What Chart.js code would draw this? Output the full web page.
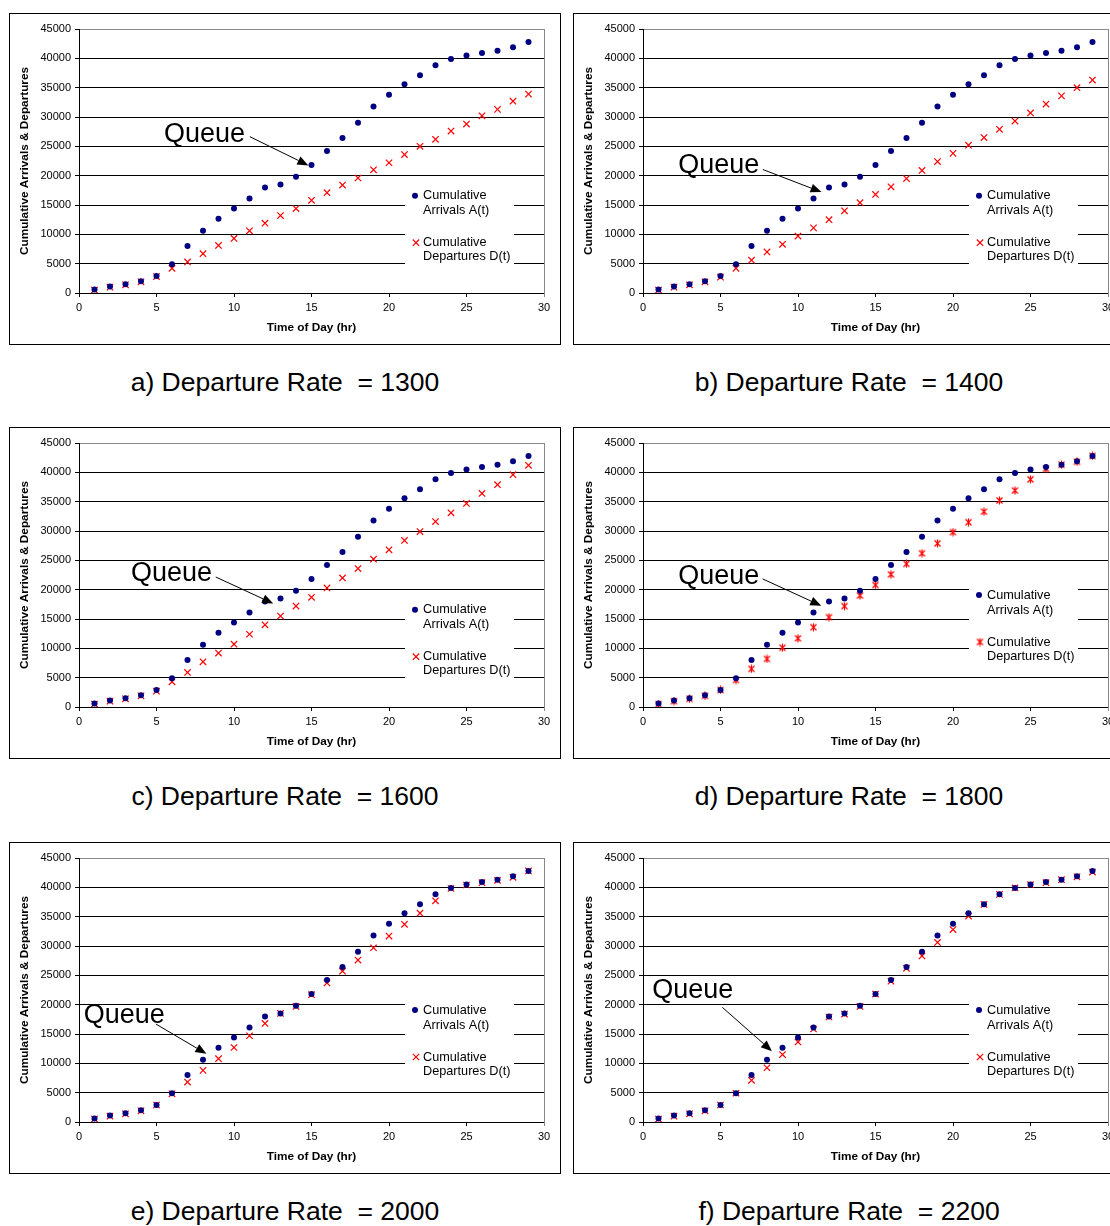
<!DOCTYPE html>
<html>
<head>
<meta charset="utf-8">
<script src="https://cdn.jsdelivr.net/npm/chart.js@4.4.1/dist/chart.umd.min.js"></script>
<style>
  body { margin: 0; width: 1110px; height: 1226px; overflow: hidden; background: #fff; position: relative; font-family: "Liberation Sans", Arial, sans-serif; }
  .panel { position: absolute; width: 550px; height: 330px; border: 1px solid #000; background: #fff; }
  .panel canvas { display: block; }
  .caption { position: absolute; width: 552px; text-align: center; font-size: 26.5px; line-height: 30px; white-space: pre; color: #000; }
</style>
</head>
<body>
<script>
// chart data
const hours = [1, 2, 3, 4, 5, 6, 7, 8, 9, 10, 11, 12, 13, 14, 15, 16, 17, 18, 19, 20, 21, 22, 23, 24, 25, 26, 27, 28, 29];

// cumulative arrivals A(t), same in every panel
const arrivals = [600, 1100, 1500, 2000, 2900, 4900, 8000, 10600, 12650, 14400, 16100, 18000, 18500, 19800, 21800, 24200, 26400, 29000, 31800, 33800, 35600, 37100, 38800, 39900, 40500, 40900, 41300, 41900, 42800];

// cumulative departures D(t), one list per departure rate
const dep1300 = [500, 1000, 1400, 1900, 2800, 4200, 5300, 6700, 8100, 9300, 10600, 11900, 13200, 14400, 15800, 17100, 18400, 19600, 21000, 22200, 23600, 25000, 26200, 27600, 28800, 30200, 31300, 32700, 33900];
const dep1400 = [500, 1000, 1400, 1900, 2700, 4200, 5600, 7000, 8300, 9700, 11100, 12500, 14000, 15400, 16800, 18100, 19500, 20900, 22400, 23800, 25200, 26500, 27900, 29300, 30700, 32200, 33600, 35000, 36300];
const dep1600 = [500, 1000, 1400, 1900, 2700, 4300, 5900, 7700, 9200, 10700, 12400, 14000, 15500, 17200, 18700, 20300, 22000, 23600, 25200, 26800, 28400, 29900, 31600, 33100, 34700, 36400, 37900, 39600, 41200];
const dep1800 = [500, 1000, 1400, 1900, 2900, 4600, 6500, 8200, 10100, 11700, 13600, 15300, 17200, 19000, 20800, 22600, 24400, 26200, 27900, 29800, 31500, 33300, 35200, 36900, 38800, 40600, 41300, 41800, 42800];
const dep2000 = [500, 1000, 1400, 1900, 2900, 4800, 6800, 8800, 10800, 12700, 14700, 16800, 18500, 19700, 21700, 23700, 25700, 27600, 29700, 31700, 33700, 35600, 37700, 39800, 40400, 40800, 41200, 41700, 42800];
const dep2200 = [500, 1000, 1400, 1900, 2900, 4900, 7100, 9250, 11500, 13650, 15850, 17900, 18400, 19700, 21800, 24000, 26200, 28300, 30600, 32800, 35100, 37100, 38800, 39900, 40450, 40800, 41300, 41800, 42600];

const rates = [1300, 1400, 1600, 1800, 2000, 2200];
const letters = ["a", "b", "c", "d", "e", "f"];
const departures = [dep1300, dep1400, dep1600, dep1800, dep2000, dep2200];

const xTitle = "Time of Day (hr)";
const yTitle = "Cumulative Arrivals & Departures";
const arrivalsLegend = ["Cumulative", "Arrivals A(t)"];
const departuresLegend = ["Cumulative", "Departures D(t)"];

// "Queue" label and arrow, in data units: [textX, textY, fromX, fromY, toX, toY]
const queueNotes = [
    [5.48, 25800, 11.02, 26650, 14.8, 21750],
    [2.27, 20500, 7.73, 21050, 11.52, 17200],
    [3.35, 21500, 8.82, 22160, 12.53, 17640],
    [2.27, 21040, 7.72, 21830, 11.5, 17260],
    [0.3, 16800, 4.96, 16700, 8.22, 11620],
    [0.6, 21170, 5.12, 19540, 8.32, 12080]
];

const navy = "#000080";
const red = "#ff0000";
const fontFamily = '"Liberation Sans", Arial, sans-serif';
Chart.defaults.font.family = fontFamily;

// panel boxes on the page
const panelLeft = [9, 573];
const panelTop = [13, 427, 842];

// star marker used by the 1800 panel (x with a vertical bar)
function makeStar() {
    let c = document.createElement("canvas");
    c.width = 9; c.height = 9;
    let g = c.getContext("2d");
    g.strokeStyle = red;
    g.lineWidth = 1.2;
    g.beginPath();
    g.moveTo(1.5, 1.5); g.lineTo(7.5, 7.5);
    g.moveTo(7.5, 1.5); g.lineTo(1.5, 7.5);
    g.moveTo(4.5, 0.5); g.lineTo(4.5, 8.5);
    g.stroke();
    return c;
}
const starImg = makeStar();

function drawMarker(ctx, kind, x, y) {
    ctx.save();
    if (kind === "circle") {
        ctx.fillStyle = navy;
        ctx.beginPath();
        ctx.arc(x, y, 3, 0, Math.PI * 2);
        ctx.fill();
    } else if (kind === "star") {
        ctx.drawImage(starImg, x - 4.5, y - 4.5);
    } else {
        ctx.strokeStyle = red;
        ctx.lineWidth = 1.2;
        ctx.beginPath();
        ctx.moveTo(x - 3.2, y - 3.2); ctx.lineTo(x + 3.2, y + 3.2);
        ctx.moveTo(x + 3.2, y - 3.2); ctx.lineTo(x - 3.2, y + 3.2);
        ctx.stroke();
    }
    ctx.restore();
}

function makeOverlay(i) {
    return {
        id: "overlay" + i,
        afterDraw(chart) {
            let ctx = chart.ctx;
            let a = chart.chartArea;
            let sx = chart.scales.x, sy = chart.scales.y;
            ctx.save();

            // plot area right border
            ctx.strokeStyle = "#888";
            ctx.lineWidth = 1;
            ctx.beginPath();
            ctx.moveTo(Math.round(a.right) + 0.5, a.top);
            ctx.lineTo(Math.round(a.right) + 0.5, a.bottom + 4);
            ctx.stroke();

            // legend box inside the plot
            let l1 = a.top + (i < 3 ? 166.7 : 152);
            let lx = a.left + 326;
            ctx.fillStyle = "#fff";
            ctx.fillRect(lx, l1 - 14, 109, 91);
            drawMarker(ctx, "circle", a.left + 336, l1);
            drawMarker(ctx, i === 3 ? "star" : "cross", a.left + 337, l1 + 47);
            ctx.fillStyle = "#000";
            ctx.font = "12.7px " + fontFamily;
            ctx.textBaseline = "middle";
            ctx.textAlign = "left";
            ctx.fillText(arrivalsLegend[0], a.left + 344, l1);
            ctx.fillText(arrivalsLegend[1], a.left + 344, l1 + 15);
            ctx.fillText(departuresLegend[0], a.left + 344, l1 + 47);
            ctx.fillText(departuresLegend[1], a.left + 344, l1 + 61);

            // Queue note and arrow
            let q = queueNotes[i];
            ctx.font = "27px " + fontFamily;
            ctx.textBaseline = "alphabetic";
            ctx.fillText("Queue", sx.getPixelForValue(q[0]), sy.getPixelForValue(q[1]));
            let x1 = sx.getPixelForValue(q[2]), y1 = sy.getPixelForValue(q[3]);
            let x2 = sx.getPixelForValue(q[4]), y2 = sy.getPixelForValue(q[5]);
            let ang = Math.atan2(y2 - y1, x2 - x1);
            let hl = 11, hw = 4.5;
            let bx = x2 - hl * Math.cos(ang), by = y2 - hl * Math.sin(ang);
            ctx.strokeStyle = "#000";
            ctx.lineWidth = 1;
            ctx.beginPath();
            ctx.moveTo(x1, y1);
            ctx.lineTo(bx, by);
            ctx.stroke();
            ctx.fillStyle = "#000";
            ctx.beginPath();
            ctx.moveTo(x2, y2);
            ctx.lineTo(bx + hw * Math.sin(ang), by - hw * Math.cos(ang));
            ctx.lineTo(bx - hw * Math.sin(ang), by + hw * Math.cos(ang));
            ctx.closePath();
            ctx.fill();
            ctx.restore();
        }
    };
}

function makePanel(i) {
    let col = i % 2, row = Math.floor(i / 2);
    let box = document.createElement("div");
    box.className = "panel";
    box.style.left = panelLeft[col] + "px";
    box.style.top = panelTop[row] + "px";
    let canvas = document.createElement("canvas");
    canvas.width = 550;
    canvas.height = 330;
    box.appendChild(canvas);
    document.body.appendChild(box);

    let cap = document.createElement("div");
    cap.className = "caption";
    cap.style.left = panelLeft[col] + "px";
    cap.style.top = (panelTop[row] + 354) + "px";
    cap.textContent = letters[i] + ") Departure Rate  = " + rates[i];
    document.body.appendChild(cap);

    let tickFont = { family: fontFamily, size: 11 };
    let titleFont = { family: fontFamily, size: 11.8, weight: "bold" };

    new Chart(canvas.getContext("2d"), {
        type: "scatter",
        data: {
            datasets: [{
                label: arrivalsLegend.join(" "),
                data: hours.map(function (h, k) { return { x: h, y: arrivals[k] }; }),
                pointStyle: "circle",
                pointRadius: 3,
                backgroundColor: navy,
                borderColor: navy,
                borderWidth: 0
            }, {
                label: departuresLegend.join(" "),
                data: hours.map(function (h, k) { return { x: h, y: departures[i][k] }; }),
                pointStyle: i === 3 ? starImg : "crossRot",
                pointRadius: 4.5,
                backgroundColor: red,
                borderColor: red,
                borderWidth: 1.2
            }]
        },
        options: {
            responsive: false,
            animation: false,
            devicePixelRatio: 1,
            layout: { padding: { top: 15, right: 16, left: 0, bottom: 0 } },
            plugins: { legend: { display: false }, tooltip: { enabled: false } },
            scales: {
                x: {
                    type: "linear", min: 0, max: 30,
                    ticks: { stepSize: 5, color: "#000", font: tickFont, padding: 4, maxRotation: 0, callback: function (v) { return String(v); } },
                    grid: { drawOnChartArea: false, drawTicks: true, tickLength: 4, color: "#000" },
                    border: { color: "#000" },
                    title: { display: true, text: xTitle, color: "#000", font: titleFont, padding: { top: 0, bottom: 9 } },
                    afterFit: function (s) { s.height = 51; }
                },
                y: {
                    type: "linear", min: 0, max: 45000,
                    ticks: { stepSize: 5000, color: "#000", font: tickFont, padding: 4, callback: function (v) { return String(v); } },
                    grid: {
                        color: function (c) { return (c.tick && c.tick.value === 45000) ? "#888" : "#000"; },
                        tickColor: "#000", tickLength: 4
                    },
                    border: { color: "#000" },
                    title: { display: true, text: yTitle, color: "#000", font: titleFont, padding: { top: 8, bottom: 0 } },
                    afterFit: function (s) { s.width = 69; }
                }
            }
        },
        plugins: [makeOverlay(i)]
    });
}

for (let i = 0; i < 6; i++) {
    makePanel(i);
}
</script>
</body>
</html>
